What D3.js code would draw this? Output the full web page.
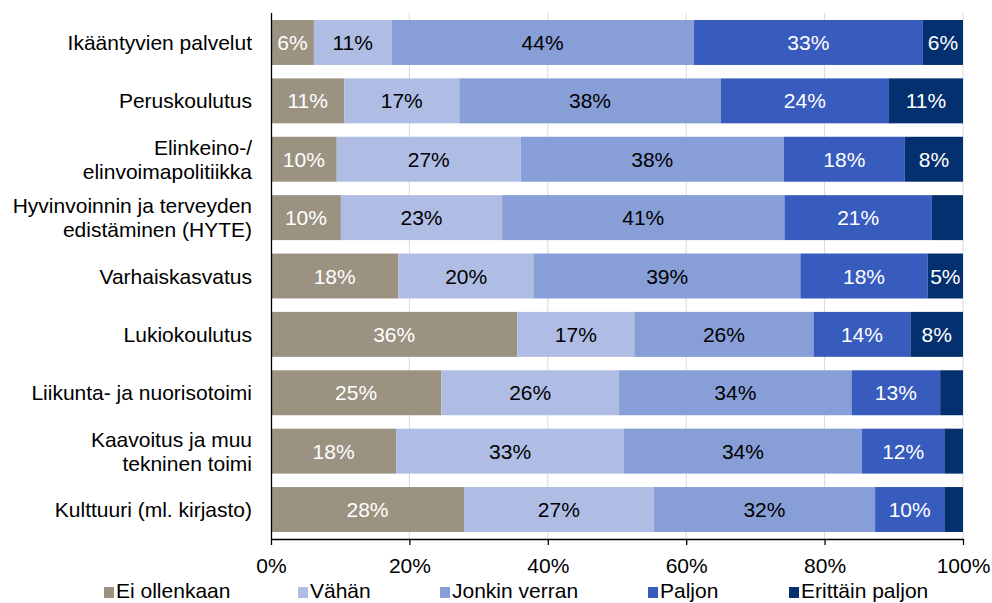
<!DOCTYPE html>
<html>
<head>
<meta charset="utf-8">
<script src="https://cdn.jsdelivr.net/npm/d3@7"></script>
<style>
	body { margin: 0; background: #fff; }
	text { font-family: "Liberation Sans", Arial, sans-serif; }
</style>
</head>
<body>
<svg id="chart" width="992" height="603"></svg>
<script>
const categories = [
	["Ikääntyvien palvelut"],
	["Peruskoulutus"],
	["Elinkeino-/", "elinvoimapolitiikka"],
	["Hyvinvoinnin ja terveyden", "edistäminen (HYTE)"],
	["Varhaiskasvatus"],
	["Lukiokoulutus"],
	["Liikunta- ja nuorisotoimi"],
	["Kaavoitus ja muu", "tekninen toimi"],
	["Kulttuuri (ml. kirjasto)"]
];
const seriesNames = ["Ei ollenkaan", "Vähän", "Jonkin verran", "Paljon", "Erittäin paljon"];
const eiOllenkaan = [6.2, 10.6, 9.5, 10.1, 18.4, 35.6, 24.6, 18.1, 27.9];
const vahan = [11.2, 16.6, 26.6, 23.3, 19.6, 16.9, 25.7, 32.9, 27.4];
const jonkinVerran = [43.7, 37.8, 38.0, 40.8, 38.5, 25.9, 33.6, 34.4, 32.0];
const paljon = [33.1, 24.3, 17.5, 21.3, 18.4, 14.0, 12.8, 11.9, 10.0];
const erittainPaljon = [5.8, 10.7, 8.4, 4.5, 5.1, 7.6, 3.3, 2.7, 2.7];
const xTicks = [0, 20, 40, 60, 80, 100];

const colors = ["#9b9282", "#afbde5", "#879ed7", "#385bbe", "#05306f"];
const labelColors = ["#fff", "#000", "#000", "#fff", "#fff"];

const seriesValues = [eiOllenkaan, vahan, jonkinVerran, paljon, erittainPaljon];
const rows = categories.map((c, i) => {
	const row = { key: c.join(" ") };
	seriesNames.forEach((s, j) => (row[s] = seriesValues[j][i]));
	return row;
});
const stacked = d3.stack().keys(seriesNames)(rows);

const svg = d3.select("#chart");
const x = d3.scaleLinear().domain([0, 100]).range([271, 963]);
const y = d3
	.scaleBand()
	.domain(rows.map(d => d.key))
	.range([13, 539])
	.paddingInner(0.23)
	.paddingOuter(0.12);

// gridlines
svg.append("g")
	.selectAll("line")
	.data(xTicks.slice(1))
	.join("line")
	.attr("x1", d => x(d))
	.attr("x2", d => x(d))
	.attr("y1", 13)
	.attr("y2", 539)
	.attr("stroke", "#d9d9d9")
	.attr("stroke-width", 1);

// bars
const layers = svg.append("g")
	.selectAll("g")
	.data(stacked)
	.join("g")
	.attr("fill", (d, i) => colors[i]);

layers.selectAll("rect")
	.data(d => d)
	.join("rect")
	.attr("x", d => x(d[0]))
	.attr("width", d => x(d[1]) - x(d[0]))
	.attr("y", d => y(d.data.key))
	.attr("height", y.bandwidth());

// data labels
svg.append("g")
	.selectAll("g")
	.data(stacked)
	.join("g")
	.attr("fill", (d, i) => labelColors[i])
	.selectAll("text")
	.data(d => d.filter(p => p[1] - p[0] >= 5))
	.join("text")
	.attr("x", d => (x(d[0]) + x(d[1])) / 2)
	.attr("y", d => y(d.data.key) + y.bandwidth() / 2)
	.attr("dy", "0.36em")
	.attr("text-anchor", "middle")
	.attr("font-size", 21)
	.text(d => Math.round(d[1] - d[0]) + "%");

// x axis
const xAxis = svg.append("g")
	.attr("transform", "translate(0,539)")
	.call(d3.axisBottom(x).tickValues(xTicks).tickFormat(d => d + "%").tickSize(6).tickSizeOuter(0));
xAxis.select(".domain").attr("stroke", "#000").attr("stroke-width", 1.3);
xAxis.selectAll(".tick line").attr("stroke", "#000").attr("stroke-width", 1.3);
xAxis.selectAll(".tick text")
	.attr("font-size", 21)
	.attr("font-family", "Liberation Sans, Arial, sans-serif")
	.attr("fill", "#000")
	.attr("y", 19)
	.attr("dy", "0.71em");

// y axis line
svg.append("line")
	.attr("x1", 271.5)
	.attr("x2", 271.5)
	.attr("y1", 13)
	.attr("y2", 539)
	.attr("stroke", "#000")
	.attr("stroke-width", 1.3);

// category labels
const catLabels = svg.append("g")
	.selectAll("text")
	.data(categories)
	.join("text")
	.attr("text-anchor", "end")
	.attr("font-size", 21)
	.attr("fill", "#000")
	.attr("x", 252)
	.attr("y", (d, i) => y(rows[i].key) + y.bandwidth() / 2);
catLabels.selectAll("tspan")
	.data(d => d.map((t, k) => ({ t, k, n: d.length })))
	.join("tspan")
	.attr("x", 252)
	.attr("dy", d => (d.k === 0 ? (0.36 - (d.n - 1) * 0.575) + "em" : "1.15em"))
	.text(d => d.t);

// legend
const legendX = [104, 298, 440, 648, 789];
const legend = svg.append("g")
	.selectAll("g")
	.data(seriesNames)
	.join("g")
	.attr("transform", (d, i) => `translate(${legendX[i]},0)`);
legend.append("rect")
	.attr("x", 0)
	.attr("y", 587)
	.attr("width", 10)
	.attr("height", 11)
	.attr("fill", (d, i) => colors[i]);
legend.append("text")
	.attr("x", 12)
	.attr("y", 598)
	.attr("font-size", 21)
	.attr("fill", "#000")
	.text(d => d);
</script>
</body>
</html>
